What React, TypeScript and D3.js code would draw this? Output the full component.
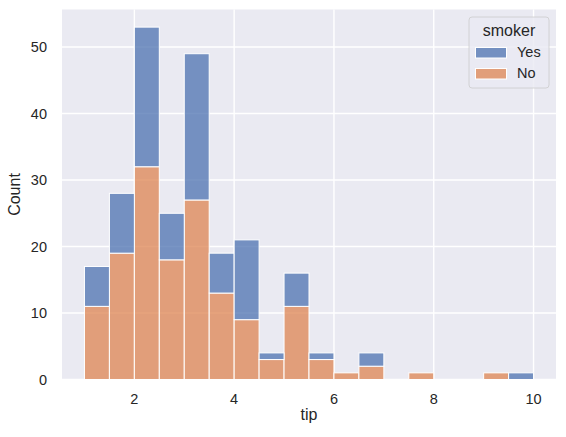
import { useEffect, useRef } from "react";
import * as d3 from "d3";

// tip histogram, 0.5-wide bins starting at 1
const binStarts = [1, 1.5, 2, 2.5, 3, 3.5, 4, 4.5, 5, 5.5, 6, 6.5, 7, 7.5, 8, 8.5, 9, 9.5];
const noCounts = [11, 19, 32, 18, 27, 13, 9, 3, 11, 3, 1, 2, 0, 1, 0, 0, 1, 0];
const yesCounts = [6, 9, 21, 7, 22, 6, 12, 1, 5, 1, 0, 2, 0, 0, 0, 0, 0, 1];
const xTicks = [2, 4, 6, 8, 10];
const yTicks = [0, 10, 20, 30, 40, 50];
const series = ["Yes", "No"];
const colors = ["#4c72b0", "#dd8452"];

export default function App() {
    const svgRef = useRef<SVGSVGElement | null>(null);

    useEffect(() => {
        if (!svgRef.current) return;
        d3.select(svgRef.current).selectAll("*").remove();

        const width = 566;
        const height = 437;
        const margin = { top: 9.5, right: 10, bottom: 57.5, left: 62 };
        const innerWidth = width - margin.left - margin.right;
        const innerHeight = height - margin.top - margin.bottom;
        const font = "'Liberation Sans', Arial, sans-serif";

        const svg = d3
            .select(svgRef.current)
            .attr("width", width)
            .attr("height", height)
            .style("font-family", font);

        const g = svg.append("g").attr("transform", `translate(${margin.left},${margin.top})`);

        const x = d3.scaleLinear().domain([0.55, 10.45]).range([0, innerWidth]);
        const y = d3.scaleLinear().domain([0, 55.65]).range([innerHeight, 0]);

        // background
        g.append("rect")
            .attr("width", innerWidth)
            .attr("height", innerHeight)
            .attr("fill", "#eaeaf2");

        // grid
        g.selectAll(".xgrid")
            .data(xTicks)
            .enter()
            .append("line")
            .attr("x1", (d) => x(d))
            .attr("x2", (d) => x(d))
            .attr("y1", 0)
            .attr("y2", innerHeight)
            .attr("stroke", "#fff")
            .attr("stroke-width", 1.4);
        g.selectAll(".ygrid")
            .data(yTicks)
            .enter()
            .append("line")
            .attr("y1", (d) => y(d))
            .attr("y2", (d) => y(d))
            .attr("x1", 0)
            .attr("x2", innerWidth)
            .attr("stroke", "#fff")
            .attr("stroke-width", 1.4);

        // stacked bars: No at bottom, Yes on top
        const rows = binStarts.map((b, i) => ({ b, no: noCounts[i], yes: yesCounts[i] }));
        const layers = [
            { key: "No", color: colors[1], lo: (d: any) => 0, hi: (d: any) => d.no },
            { key: "Yes", color: colors[0], lo: (d: any) => d.no, hi: (d: any) => d.no + d.yes },
        ];
        layers.forEach((layer) => {
            g.selectAll(`.bar-${layer.key}`)
                .data(rows.filter((d) => layer.hi(d) > layer.lo(d)))
                .enter()
                .append("rect")
                .attr("x", (d) => x(d.b))
                .attr("width", x(0.5) - x(0))
                .attr("y", (d) => y(layer.hi(d)))
                .attr("height", (d) => y(layer.lo(d)) - y(layer.hi(d)))
                .attr("fill", layer.color)
                .attr("fill-opacity", 0.75)
                .attr("stroke", "#fff")
                .attr("stroke-width", 1);
        });

        // tick labels
        g.selectAll(".xlab")
            .data(xTicks)
            .enter()
            .append("text")
            .attr("x", (d) => x(d))
            .attr("y", innerHeight + 24.5)
            .attr("text-anchor", "middle")
            .attr("font-size", "14.5px")
            .attr("fill", "#262626")
            .text((d) => d);
        g.selectAll(".ylab")
            .data(yTicks)
            .enter()
            .append("text")
            .attr("x", -15)
            .attr("y", (d) => y(d))
            .attr("dy", "0.35em")
            .attr("text-anchor", "end")
            .attr("font-size", "14.5px")
            .attr("fill", "#262626")
            .text((d) => d);

        // axis titles
        g.append("text")
            .attr("x", innerWidth / 2)
            .attr("y", innerHeight + 40)
            .attr("text-anchor", "middle")
            .attr("font-size", "16px")
            .attr("fill", "#262626")
            .text("tip");
        g.append("text")
            .attr("transform", `translate(-42,${innerHeight / 2}) rotate(-90)`)
            .attr("text-anchor", "middle")
            .attr("font-size", "16px")
            .attr("fill", "#262626")
            .text("Count");

        // legend
        const lg = svg.append("g").attr("transform", "translate(469,17)");
        lg.append("rect")
            .attr("width", 80)
            .attr("height", 71)
            .attr("rx", 3)
            .attr("fill", "#eaeaf2")
            .attr("fill-opacity", 0.8)
            .attr("stroke", "#cccccc")
            .attr("stroke-width", 0.8);
        lg.append("text")
            .attr("x", 40)
            .attr("y", 18.5)
            .attr("text-anchor", "middle")
            .attr("font-size", "16px")
            .attr("fill", "#262626")
            .text("smoker");
        series.forEach((s, i) => {
            lg.append("rect")
                .attr("x", 6.5)
                .attr("y", 30.5 + i * 21)
                .attr("width", 31)
                .attr("height", 10.5)
                .attr("fill", colors[i])
                .attr("fill-opacity", 0.75)
                .attr("stroke", "#fff")
                .attr("stroke-width", 1);
            lg.append("text")
                .attr("x", 48)
                .attr("y", 40 + i * 21.3)
                .attr("font-size", "14.5px")
                .attr("fill", "#262626")
                .text(s);
        });
    }, []);

    return <svg ref={svgRef} style={{ position: "absolute", left: 0, top: 0 }} />;
}
